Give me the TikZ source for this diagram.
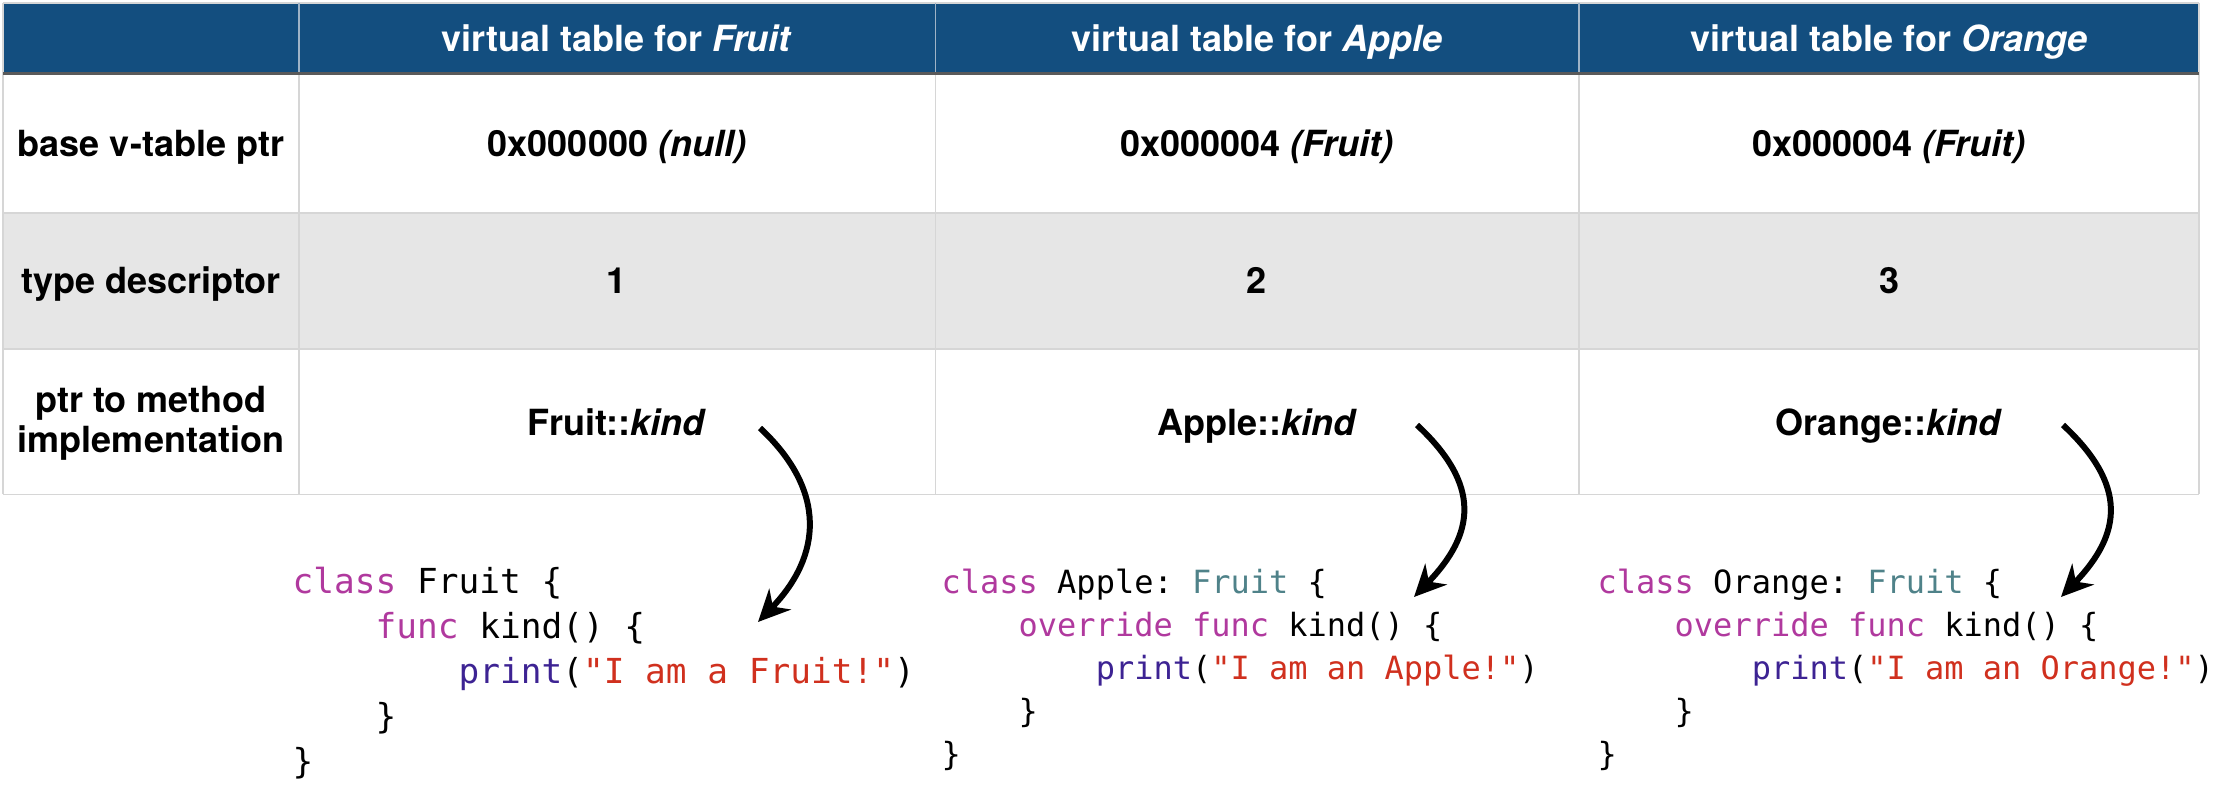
\documentclass[tikz,border=0pt]{standalone}
\usepackage{fontspec}
\setmainfont{TeX Gyre Heros}
\setmonofont{DejaVu Sans Mono}
\usetikzlibrary{arrows.meta,positioning}

\definecolor{hdrblue}{HTML}{134E7F}
\definecolor{hdrsep}{HTML}{9FB3C6}
\definecolor{hdrline}{HTML}{5A5A5A}
\definecolor{rowgray}{HTML}{E6E6E6}
\definecolor{gridgray}{HTML}{D6D6D6}
\definecolor{kw}{HTML}{B0399E}
\definecolor{fn}{HTML}{3D2393}
\definecolor{str}{HTML}{D0301E}
\definecolor{typ}{HTML}{4F8289}

\newcommand{\ind}{\phantom{0000}}

\begin{document}
\begin{tikzpicture}[
    hdr/.style={anchor=base, text=white, font=\bfseries\fontsize{10.25}{12.4}\selectfont},
    cell/.style={anchor=base, font=\bfseries\fontsize{10.25}{11.4}\selectfont},
    code/.style={anchor=base west, inner sep=0pt, align=left, font=\ttfamily\fontsize{9.1}{12.2}\selectfont},
    ptr/.style={-{Stealth[length=9pt,width=8.5pt]}, line width=1.7pt}
]
    \useasboundingbox (0,0) rectangle (22.22,-8);
    % Table
    \fill[hdrblue] (0.03,-0.03) rectangle (21.99,-0.735);
    \fill[rowgray] (0.03,-2.13) rectangle (21.99,-3.49);
    \draw[gridgray] (0.03,-0.03) -- (21.99,-0.03);
    \draw[gridgray] (0.03,-2.13) -- (21.99,-2.13);
    \draw[gridgray] (0.03,-3.49) -- (21.99,-3.49);
    \draw[gridgray] (0.03,-4.945) -- (21.99,-4.945);
    \draw[gridgray] (0.03,-0.03) -- (0.03,-4.945);
    \draw[gridgray] (21.99,-0.03) -- (21.99,-4.945);
    \draw[hdrsep] (2.99,-0.03) -- (2.99,-0.735);
    \draw[hdrsep] (9.355,-0.03) -- (9.355,-0.735);
    \draw[hdrsep] (15.79,-0.03) -- (15.79,-0.735);
    \draw[gridgray] (2.99,-0.735) -- (2.99,-4.945);
    \draw[gridgray] (9.355,-0.735) -- (9.355,-4.945);
    \draw[gridgray] (15.79,-0.735) -- (15.79,-4.945);
    \draw[hdrline, line width=0.8pt] (0.03,-0.735) -- (21.99,-0.735);
    % Headers
    \node[hdr] (hfruit) at (6.17,-0.52) {virtual table for \textit{Fruit}};
    \node[hdr] (happle) at (12.57,-0.52) {virtual table for \textit{Apple}};
    \node[hdr] (horange) at (18.89,-0.52) {virtual table for \textit{Orange}};
    % Row labels
    \node[cell] (lbase) at (1.51,-1.565) {base v-table ptr};
    \node[cell] (ltype) at (1.51,-2.94) {type descriptor};
    \node[cell, align=center] (lptr) at (1.51,-4.53) {ptr to method\\implementation};
    % Elements
    \node[cell] (fbase) at (6.17,-1.565) {0x000000 \textit{(null)}};
    \node[cell] (abase) at (12.57,-1.565) {0x000004 \textit{(Fruit)}};
    \node[cell] (obase) at (18.89,-1.565) {0x000004 \textit{(Fruit)}};
    \node[cell] (ftype) at (6.17,-2.94) {1};
    \node[cell] (atype) at (12.57,-2.94) {2};
    \node[cell] (otype) at (18.89,-2.94) {3};
    \node[cell] (fkind) at (6.17,-4.36) {Fruit::\textit{kind}};
    \node[cell] (akind) at (12.57,-4.36) {Apple::\textit{kind}};
    \node[cell] (okind) at (18.89,-4.36) {Orange::\textit{kind}};
    % Code
    \node[code, font=\ttfamily\fontsize{9.8}{12.8}\selectfont] (fcode) at (2.92,-7.73) {%
        \textcolor{kw}{class} Fruit \{\\
        \ind\textcolor{kw}{func} kind() \{\\
        \ind\ind\textcolor{fn}{print}(\textcolor{str}{"I am a Fruit!"})\\
        \ind\}\\
        \}};
    \node[code] (acode) at (9.41,-7.65) {%
        \textcolor{kw}{class} Apple: \textcolor{typ}{Fruit} \{\\
        \ind\textcolor{kw}{override func} kind() \{\\
        \ind\ind\textcolor{fn}{print}(\textcolor{str}{"I am an Apple!"})\\
        \ind\}\\
        \}};
    \node[code] (ocode) at (15.97,-7.65) {%
        \textcolor{kw}{class} Orange: \textcolor{typ}{Fruit} \{\\
        \ind\textcolor{kw}{override func} kind() \{\\
        \ind\ind\textcolor{fn}{print}(\textcolor{str}{"I am an Orange!"})\\
        \ind\}\\
        \}};
    % Arrows
    \coordinate (fs) at (7.60,-4.28);
    \coordinate (fe) at (7.58,-6.22);
    \coordinate (as) at (14.17,-4.25);
    \coordinate (ae) at (14.14,-5.97);
    \coordinate (os) at (20.63,-4.25);
    \coordinate (oe) at (20.61,-5.97);
    \draw[ptr] (fs) to[out=-43, in=46, looseness=1.21] (fe);
    \draw[ptr] (as) to[out=-43, in=46, looseness=1.31] (ae);
    \draw[ptr] (os) to[out=-43, in=46, looseness=1.31] (oe);
\end{tikzpicture}
\end{document}
